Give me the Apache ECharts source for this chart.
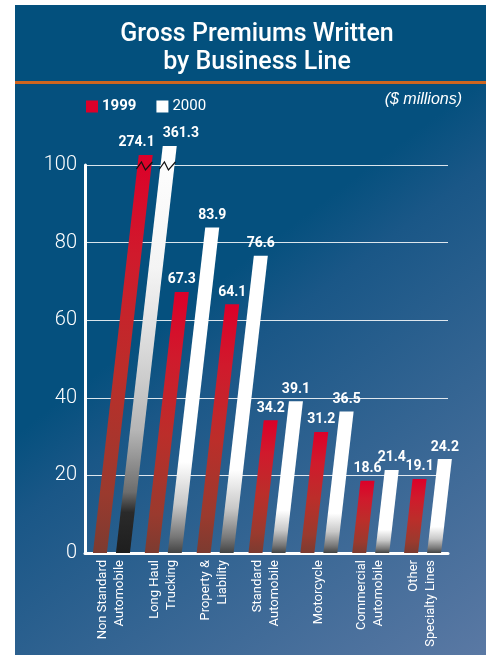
<!DOCTYPE html>
<html><head><meta charset="utf-8">
<script src="https://cdn.jsdelivr.net/npm/echarts@6/dist/echarts.min.js"></script>
<style>html,body{margin:0;padding:0;background:#fff}#c{width:490px;height:655px}</style>
</head><body><div id="c"></div>
<script>
const categories = ['Non Standard\nAutomobile','Long Haul\nTrucking','Property &\nLiability','Standard\nAutomobile','Motorcycle','Commercial\nAutomobile','Other\nSpecialty Lines'];
const values1999 = [274.1, 67.3, 64.1, 34.2, 31.2, 18.6, 19.1];
const values2000 = [361.3, 83.9, 76.6, 39.1, 36.5, 21.4, 24.2];
const yTicks = [0, 20, 40, 60, 80, 100];
// height (axis units) at which an off-scale (broken) bar is drawn
const brokenTop1999 = 102.6;
const brokenTop2000 = 104.9;

const yMax = yTicks[yTicks.length - 1];
const FONT_N = '"Liberation Sans Narrow", Roboto, "Liberation Sans", Arial, sans-serif';
const G = echarts.graphic;

function redFill() {
  return new G.LinearGradient(0, 0, 0, 1, [
    {offset: 0, color: '#dc0029'}, {offset: 0.25, color: '#d01a2c'},
    {offset: 0.55, color: '#bb2e2a'}, {offset: 0.85, color: '#9a3a2e'}, {offset: 1, color: '#7c3b30'}]);
}
function whiteFill(broken) {
  if (broken) return new G.LinearGradient(0, 0, 0, 1, [
    {offset: 0, color: '#ffffff'}, {offset: 0.3, color: '#f4f4f4'}, {offset: 0.5, color: '#d9d9d9'},
    {offset: 0.7, color: '#b5b5b5'}, {offset: 0.85, color: '#6d6d6d'}, {offset: 0.9, color: '#2a2a2a'}, {offset: 1, color: '#1e1e1e'}]);
  return new G.LinearGradient(0, 0, 0, 1, [
    {offset: 0, color: '#ffffff'}, {offset: 0.72, color: '#ffffff'}, {offset: 0.85, color: '#c8c8c8'},
    {offset: 0.95, color: '#777777'}, {offset: 1, color: '#444444'}]);
}

// brokenAlign: where the value label sits on an off-scale bar ('right' = ends at bar's right edge)
function makeRender(offset, fillFn, brokenTop, brokenAlign) {
  return function (params, api) {
    const i = api.value(0), v = api.value(1);
    const broken = v > yMax;
    const h = broken ? brokenTop : v;
    const base = api.coord([i, 0]);
    const top = api.coord([i, h]);
    const hw = 7, k = 0.115;
    const bx = base[0] + offset, by = base[1];
    const ty = top[1], tx = bx + (by - ty) * k;
    const children = [{
      type: 'polygon',
      shape: {points: [[bx - hw, by], [bx + hw, by], [tx + hw, ty], [tx - hw, ty]]},
      style: {fill: fillFn(broken)}
    }];
    let lx = tx, la = 'center';
    if (broken) {
      const cy = api.coord([i, yMax])[1] + 1;
      const cx = bx + (by - cy) * k;
      children.push({
        type: 'polyline',
        shape: {points: [[cx - hw - 1, cy + 3], [cx - 3, cy - 4], [cx + 1, cy + 4], [cx + hw + 1, cy - 4]]},
        style: {stroke: '#111', lineWidth: 1.2, fill: null}
      });
      la = brokenAlign;
      lx = brokenAlign === 'right' ? tx + hw + 2 : tx - hw;
    }
    children.push({
      type: 'text',
      style: {text: String(v), x: lx, y: ty - 5, align: la, verticalAlign: 'bottom',
        fill: '#fff', font: 'bold 14px ' + FONT_N}
    });
    return {type: 'group', children};
  };
}

const chart = echarts.init(document.getElementById('c'), null, {renderer: 'canvas'});
chart.setOption({
  animation: false,
  backgroundColor: '#ffffff',
  graphic: [
    {type: 'rect', z: -10, shape: {x: 15, y: 5, width: 471, height: 77}, style: {fill: '#03507d'}},
    {type: 'rect', z: -10, shape: {x: 15, y: 84, width: 471, height: 571},
      style: {fill: new G.LinearGradient(470, 90, 751, 461, [
        {offset: 0, color: '#05507e'}, {offset: 0.15, color: '#1a5787'}, {offset: 1, color: '#5b79a4'}], true)}},
    {type: 'rect', z: -9, shape: {x: 15, y: 81, width: 471, height: 3}, style: {fill: '#cf651f'}},
    {type: 'text', z: 5, style: {text: '($ millions)', x: 462, y: 100, align: 'right', verticalAlign: 'middle',
      fill: '#fff', font: 'italic 16px "Liberation Sans", Arial, sans-serif'}}
  ],
  title: {
    text: 'Gross Premiums Written\nby Business Line',
    left: 252, top: 16, textAlign: 'center',
    textStyle: {color: '#fff', fontSize: 25, lineHeight: 28, fontWeight: 500, fontFamily: 'Roboto, "Liberation Sans", Arial, sans-serif'}
  },
  legend: {
    left: 81, top: 94, itemWidth: 12, itemHeight: 12, itemGap: 20, icon: 'rect',
    textStyle: {color: '#fff', fontSize: 15, fontFamily: 'Roboto, "Liberation Sans", sans-serif', padding: [0, 0, 0, -1]},
    data: [{name: '1999', textStyle: {fontWeight: 'bold'}}, {name: '2000'}]
  },
  grid: {left: 85, right: 42, top: 165, bottom: 102, containLabel: false},
  xAxis: {
    type: 'category', data: categories,
    axisLine: {lineStyle: {color: '#fff', width: 3}},
    axisTick: {show: false},
    axisLabel: {rotate: 90, color: '#fff', fontSize: 13, lineHeight: 17, fontFamily: FONT_N, margin: 7, interval: 0}
  },
  yAxis: {
    type: 'value', min: 0, max: yMax, interval: 20,
    axisLine: {show: true, lineStyle: {color: '#fff', width: 3}},
    axisTick: {show: false},
    splitLine: {lineStyle: {color: 'rgba(255,255,255,0.85)', width: 1}},
    axisLabel: {color: '#fff', fontSize: 20, fontWeight: 300, margin: 8, fontFamily: 'Roboto, "Liberation Sans", Arial, sans-serif'}
  },
  series: [
    {name: '1999', type: 'custom', itemStyle: {color: '#dc0029'}, encode: {x: 0, y: 1}, clip: false,
      renderItem: makeRender(-11, redFill, brokenTop1999, 'right'), data: values1999.map((v, i) => [i, v])},
    {name: '2000', type: 'custom', itemStyle: {color: '#ffffff'}, encode: {x: 0, y: 1}, clip: false,
      renderItem: makeRender(12, whiteFill, brokenTop2000, 'left'), data: values2000.map((v, i) => [i, v])}
  ]
});
</script></body></html>
